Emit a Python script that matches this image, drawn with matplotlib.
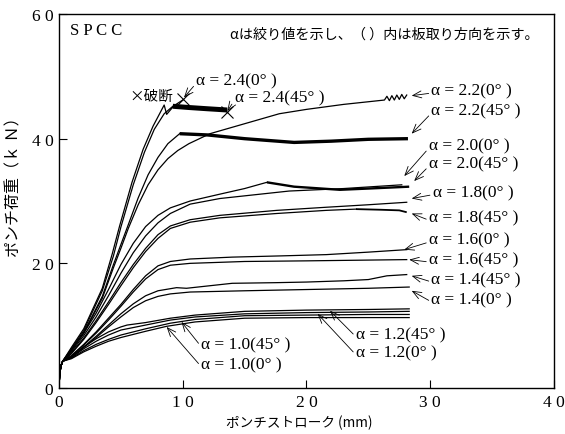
import matplotlib
matplotlib.use("Agg")
import matplotlib.pyplot as plt

# ---- punch load vs punch stroke, SPCC ----
SERIF = ["Liberation Serif", "DejaVu Serif"]
JP = ["Noto Sans CJK JP", "DejaVu Sans"]

# common start of every curve (stroke mm, load kN)
start_x = [0.0, 0.05, 0.15, 0.3]
start_y = [0.0, 2.0, 3.5, 4.3]

# alpha = 2.4 (0 deg): breaks at the end
a24_0_x = [1, 2, 3.5, 4.3, 4.9, 5.9, 6.8, 7.6, 8.5, 8.7, 9.3, 10.0]
a24_0_y = [6.5, 9.5, 16.0, 21.5, 26.0, 33.0, 38.3, 42.0, 45.4, 43.9, 45.3, 46.2]
# alpha = 2.4 (45 deg)
a24_45_x = [1, 2, 3.5, 4.4, 5.0, 6.0, 6.9, 7.7, 8.5, 9.2]
a24_45_y = [6.3, 9.2, 15.6, 21.2, 25.8, 32.6, 37.8, 41.5, 44.0, 45.2]
a24_45_band_x = [9.2, 10.5, 12.0, 13.6]
a24_45_band_y = [45.2, 45.0, 44.8, 44.6]

# alpha = 2.2 (0 deg)
a22_0_x = [1, 2, 3.5, 4.4, 5.0, 5.6, 6.4, 7.2, 8.0, 8.8, 9.6, 10.5, 12.2, 15.0, 17.8, 20.0, 23.0, 26.3,
           26.5, 26.7, 26.9, 27.1, 27.3, 27.5, 27.7, 27.9, 28.1]
a22_0_y = [6.1, 8.8, 14.4, 19.3, 22.4, 25.6, 29.4, 32.6, 35.0, 36.8, 38.1, 39.2, 40.8, 42.4, 44.0, 44.7, 45.5, 46.2,
           46.8, 46.1, 46.9, 46.2, 47.0, 46.3, 47.1, 46.4, 47.0]
# alpha = 2.2 (45 deg)
a22_45_x = [1, 2, 3.5, 4.4, 5.0, 5.6, 6.4, 7.2, 8.0, 8.8, 9.75]
a22_45_y = [6.1, 8.9, 14.7, 19.8, 23.0, 26.2, 30.5, 34.2, 37.0, 39.2, 40.8]
a22_45_band_x = [9.75, 12.0, 15.0, 19.0, 22.0, 25.0, 28.2]
a22_45_band_y = [40.8, 40.6, 40.0, 39.4, 39.6, 39.9, 40.0]

# alpha = 2.0 (0 deg)
a20_0_x = [1, 2, 3, 4, 5, 6, 7, 8, 9, 10.6, 13.0, 15.0, 16.8]
a20_0_y = [6.0, 8.8, 12.0, 15.8, 19.8, 23.2, 25.9, 27.7, 28.9, 30.0, 31.1, 32.0, 33.0]
a20_0_band_x = [16.8, 19.0, 22.7, 25.0, 28.3]
a20_0_band_y = [33.0, 32.3, 31.8, 32.0, 32.3]
# alpha = 2.0 (45 deg)
a20_45_x = [1, 2, 3, 4, 5, 6, 7, 8, 9, 10.6, 13.0, 18.6, 23.0, 27.7]
a20_45_y = [5.8, 8.4, 11.4, 14.8, 18.4, 21.7, 24.4, 26.5, 28.0, 29.5, 30.4, 31.6, 32.0, 32.6]

# alpha = 1.8 (0 deg)
a18_0_x = [1, 2, 3, 4, 5, 6, 7, 8, 9, 10.6, 13.0, 17.6, 21.6, 25.0, 28.1]
a18_0_y = [5.6, 8.0, 10.8, 13.8, 16.9, 19.8, 22.4, 24.6, 26.0, 27.0, 27.7, 28.5, 29.0, 29.4, 29.8]
# alpha = 1.8 (45 deg)
a18_45_x = [1, 2, 3, 4, 5, 6, 7, 8, 9, 10.6, 13.0, 17.6, 21.6, 24.0]
a18_45_y = [5.5, 7.8, 10.5, 13.4, 16.4, 19.3, 21.9, 24.0, 25.6, 26.6, 27.3, 28.0, 28.5, 28.7]
a18_45_band_x = [24.0, 26.0, 27.5, 28.1]
a18_45_band_y = [28.7, 28.6, 28.5, 28.2]

# alpha = 1.6 (0 deg)
a16_0_x = [1, 2, 3, 4, 5, 6, 7, 8, 9, 10.6, 14.0, 18.0, 21.6, 25.0, 28.1]
a16_0_y = [5.2, 7.0, 9.0, 11.2, 13.4, 15.8, 18.0, 19.6, 20.3, 20.7, 21.0, 21.2, 21.4, 21.8, 22.2]
# alpha = 1.6 (45 deg)
a16_45_x = [1, 2, 3, 4, 5, 6, 7, 8, 9, 10.6, 15.0, 20.0, 28.1]
a16_45_y = [5.1, 6.9, 8.8, 10.9, 13.1, 15.4, 17.5, 19.0, 19.7, 20.0, 20.3, 20.4, 20.6]

# alpha = 1.4 (45 deg)
a14_45_x = [1, 2, 3, 4, 5, 6, 7, 8, 9.5, 10.3, 14.0, 17.5, 20.0, 23.0, 25.0, 26.5, 28.1]
a14_45_y = [5.0, 6.6, 8.3, 10.1, 11.9, 13.5, 14.8, 15.6, 16.1, 16.0, 16.8, 16.9, 17.0, 17.2, 17.4, 18.0, 18.2]
# alpha = 1.4 (0 deg)
a14_0_x = [1, 2, 3, 4, 5, 6, 7, 8, 9, 10.6, 15.0, 20.0, 25.0, 28.3]
a14_0_y = [4.9, 6.5, 8.1, 9.8, 11.4, 12.9, 14.0, 14.7, 15.1, 15.4, 15.6, 15.8, 16.0, 16.2]

# alpha = 1.2 (45 deg)
a12_45_x = [1, 2, 3, 4, 5, 5.5, 7, 9, 11, 15, 20, 25, 28.3]
a12_45_y = [5.0, 6.6, 7.9, 9.0, 9.8, 10.1, 10.5, 11.2, 11.7, 12.3, 12.5, 12.6, 12.7]
# alpha = 1.2 (0 deg)
a12_0_x = [1, 2, 3, 4, 5, 7, 9, 11, 15, 20, 25, 28.3]
a12_0_y = [4.9, 6.3, 7.5, 8.5, 9.3, 10.1, 10.9, 11.4, 11.9, 12.1, 12.2, 12.3]
# alpha = 1.0 (45 deg)
a10_45_x = [1, 2, 3, 4, 5, 7, 9, 11, 15, 20, 25, 28.3]
a10_45_y = [4.8, 6.0, 7.0, 7.8, 8.5, 9.5, 10.4, 11.0, 11.6, 11.7, 11.8, 11.8]
# alpha = 1.0 (0 deg)
a10_0_x = [1, 2, 3, 4, 5, 7, 8.7, 11, 15, 20, 25, 28.3]
a10_0_y = [4.7, 5.8, 6.7, 7.5, 8.1, 9.1, 9.9, 10.6, 11.2, 11.3, 11.3, 11.3]

curves = [
    (a24_0_x, a24_0_y), (a24_45_x, a24_45_y),
    (a22_0_x, a22_0_y), (a22_45_x, a22_45_y),
    (a20_0_x, a20_0_y), (a20_45_x, a20_45_y),
    (a18_0_x, a18_0_y), (a18_45_x, a18_45_y),
    (a16_0_x, a16_0_y), (a16_45_x, a16_45_y),
    (a14_45_x, a14_45_y), (a14_0_x, a14_0_y),
    (a12_45_x, a12_45_y), (a12_0_x, a12_0_y),
    (a10_45_x, a10_45_y), (a10_0_x, a10_0_y),
]
# noisy plateaus drawn as a heavy trace: (x, y, width)
bands = [
    (a24_45_band_x, a24_45_band_y, 3.6),
    (a22_45_band_x, a22_45_band_y, 2.4),
    (a20_0_band_x, a20_0_band_y, 1.7),
    (a18_45_band_x, a18_45_band_y, 1.3),
]
# fracture points
break_x = [10.0, 13.6]
break_y = [46.3, 44.3]

# labels: text, text anchor (x, y), arrow head (x, y)
labels = [
    ("α = 2.4(0° )", (11.1, 49.3), (10.1, 46.6)),
    ("α = 2.4(45° )", (14.2, 46.6), (13.6, 44.4)),
    ("α = 2.2(0° )", (30.1, 47.7), (28.5, 46.9)),
    ("α = 2.2(45° )", (30.1, 44.5), (28.5, 40.8)),
    ("α = 2.0(0° )", (29.9, 38.9), (27.9, 34.0)),
    ("α = 2.0(45° )", (29.9, 36.0), (28.7, 33.2)),
    ("α = 1.8(0° )", (30.2, 31.4), (28.5, 30.4)),
    ("α = 1.8(45° )", (29.9, 27.3), (28.5, 28.0)),
    ("α = 1.6(0° )", (29.9, 23.8), (27.9, 22.2)),
    ("α = 1.6(45° )", (29.9, 20.6), (28.3, 20.6)),
    ("α = 1.4(45° )", (30.1, 17.4), (28.5, 18.0)),
    ("α = 1.4(0° )", (30.1, 14.2), (28.5, 15.6)),
    ("α = 1.2(45° )", (24.0, 8.6), (21.9, 12.4)),
    ("α = 1.2(0° )", (24.0, 5.7), (20.9, 11.9)),
    ("α = 1.0(45° )", (11.5, 7.0), (9.9, 10.6)),
    ("α = 1.0(0° )", (11.5, 3.8), (8.7, 9.8)),
]

x_ticks = [0, 10, 20, 30, 40]
y_ticks = [0, 20, 40, 60]
x_ticklabels = ["0", "1 0", "2 0", "3 0", "4 0"]
y_ticklabels = ["0", "2 0", "4 0", "6 0"]

fig = plt.figure(figsize=(5.65, 4.35), dpi=100)
ax = fig.add_axes([0.1044, 0.1057, 0.8761, 0.8598])

for cx, cy in curves:
    ax.plot(start_x + cx, start_y + cy, color="black", lw=0.9)
for bx, by, w in bands:
    ax.plot(bx, by, color="black", lw=w, solid_capstyle="butt")
ax.plot(break_x, break_y, linestyle="none", marker="x", color="black",
        markersize=8, markeredgewidth=0.8)

for text, xytext, xy in labels:
    ax.annotate(text, xy=xy, xytext=xytext, ha="left", va="center",
                fontsize=12.5, family=SERIF,
                arrowprops=dict(arrowstyle="->,head_length=0.5,head_width=0.2",
                                lw=0.6, color="black", shrinkA=0, shrinkB=0,
                                relpos=(0.0, 0.35)))

ax.text(5.7, 46.9, "×破断", fontsize=10.5, family=JP, va="center", ha="left")
ax.text(0.9, 57.4, "S P C C", fontsize=12, family=SERIF, va="center", ha="left")
ax.text(13.8, 56.8, "αは絞り値を示し、（ ）内は板取り方向を示す。", fontsize=10.2,
        family=JP, va="center", ha="left")

ax.set_xlim(0, 40)
ax.set_ylim(0, 60)
ax.set_xticks(x_ticks)
ax.set_yticks(y_ticks)
ax.set_xticklabels(x_ticklabels, family=SERIF, fontsize=12.5)
ax.set_yticklabels(y_ticklabels, family=SERIF, fontsize=12.5)
ax.tick_params(direction="in", length=6, width=0.8, pad=4)
for s in ax.spines.values():
    s.set_linewidth(1.0)

ax.set_xlabel("ポンチストローク (mm)", family=JP, fontsize=9.8, va="center")
ax.set_ylabel("ポンチ荷重（ｋ Ｎ）", family=JP, fontsize=11.5, va="center")
ax.xaxis.set_label_coords(0.485, -0.09)
ax.yaxis.set_label_coords(-0.091, 0.55)

fig.savefig("out.png", dpi=100)
